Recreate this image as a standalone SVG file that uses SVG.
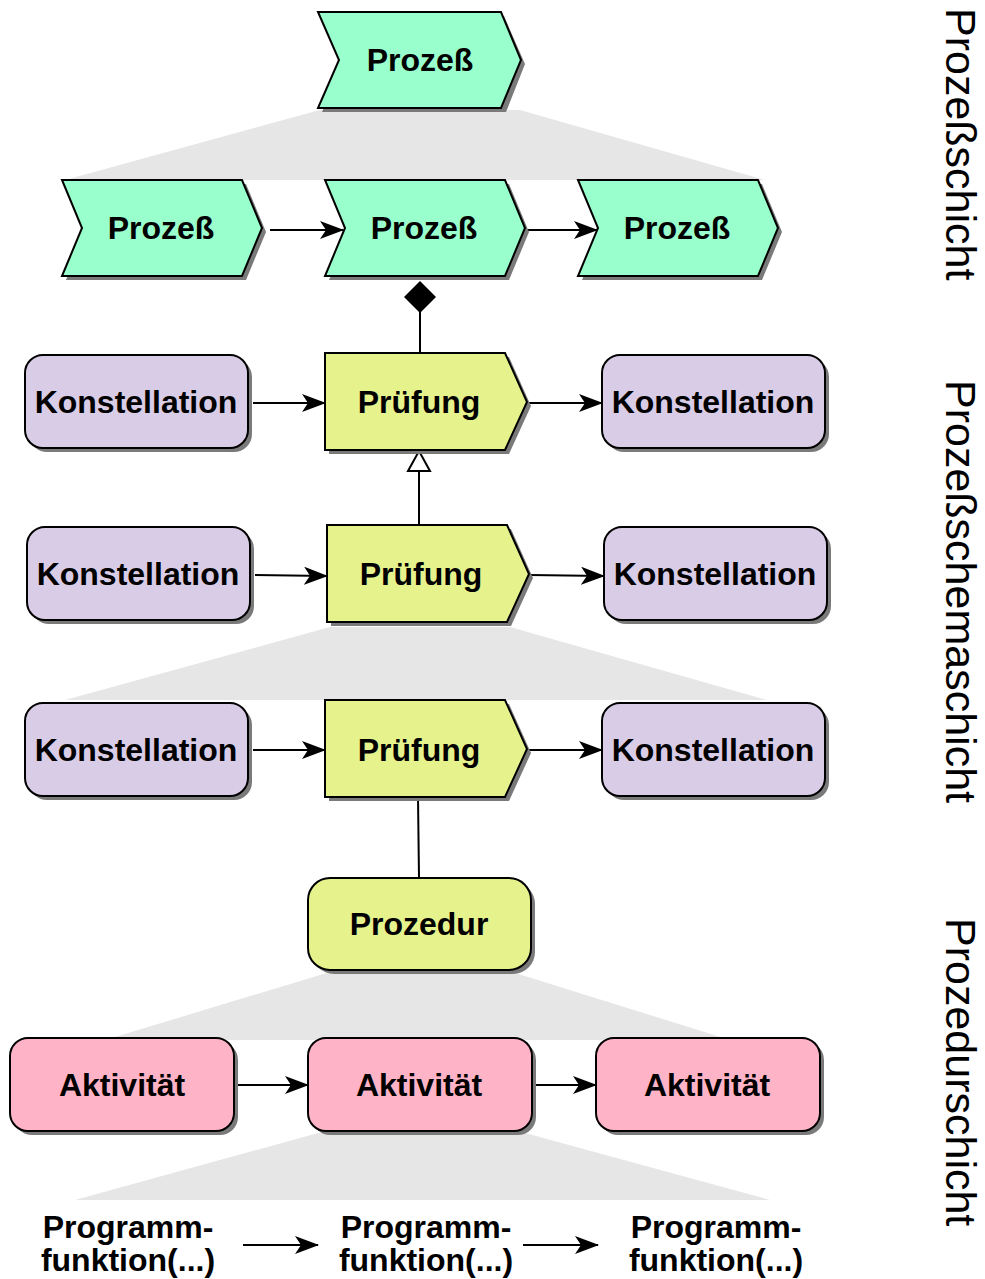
<svg xmlns="http://www.w3.org/2000/svg" width="985" height="1279" viewBox="0 0 985 1279">
<style>
  .sh { fill: #7a7a7a; stroke: none; }
  .green { fill: #99ffcc; stroke: #000; stroke-width: 2; stroke-linejoin: miter; }
  .yellow { fill: #e6f28c; stroke: #000; stroke-width: 2; }
  .purple { fill: #d9cce6; stroke: #000; stroke-width: 2; }
  .pink { fill: #ffb3c6; stroke: #000; stroke-width: 2; }
  .lbl { font-family: "Liberation Sans", Arial, sans-serif; font-weight: bold; font-size: 32px; fill: #000; text-anchor: middle; }
  .layer { font-family: "Liberation Sans", Arial, sans-serif; font-size: 43px; fill: #000; }
  .trap { fill: #e6e6e6; stroke: none; }
  .conn { stroke: #000; stroke-width: 2; fill: none; }
</style>
<defs>
  <marker id="arr" markerWidth="24" markerHeight="18" refX="23" refY="9" orient="auto" markerUnits="userSpaceOnUse">
    <path d="M0,0 L24,9 L0,18 L6,9 Z" fill="#000"/>
  </marker>
</defs>

<g id="hierarchy-bands">
  <polygon class="trap" points="320,110 520,110 765,180 65,180"/>
  <polygon class="trap" points="330,627 510,627 767,700 65,700"/>
  <polygon class="trap" points="330,972 512,972 730,1040 105,1040"/>
  <polygon class="trap" points="318,1133 525,1133 770,1200 75,1200"/>
</g>

<g id="connectors">
  <line class="conn" x1="270" y1="230" x2="343" y2="230" marker-end="url(#arr)"/>
  <line class="conn" x1="527" y1="230" x2="597" y2="230" marker-end="url(#arr)"/>
  <line class="conn" x1="420" y1="312" x2="420" y2="353"/>
  <polygon points="420,281 436,297 420,313 404,297" fill="#000"/>
  <line class="conn" x1="253" y1="403" x2="325" y2="403" marker-end="url(#arr)"/>
  <line class="conn" x1="528" y1="403" x2="602" y2="403" marker-end="url(#arr)"/>
  <line class="conn" x1="419" y1="525" x2="419" y2="471"/>
  <polygon points="419,451 430,471 408,471" fill="#fff" stroke="#000" stroke-width="2"/>
  <line class="conn" x1="255" y1="575" x2="327" y2="576" marker-end="url(#arr)"/>
  <line class="conn" x1="530" y1="575" x2="604" y2="576" marker-end="url(#arr)"/>
  <line class="conn" x1="253" y1="750" x2="325" y2="750" marker-end="url(#arr)"/>
  <line class="conn" x1="528" y1="750" x2="602" y2="750" marker-end="url(#arr)"/>
  <line class="conn" x1="418" y1="797" x2="419" y2="878"/>
  <line class="conn" x1="236" y1="1085" x2="308" y2="1085" marker-end="url(#arr)"/>
  <line class="conn" x1="528" y1="1085" x2="596" y2="1085" marker-end="url(#arr)"/>
  <line class="conn" x1="243" y1="1245" x2="318" y2="1245" marker-end="url(#arr)"/>
  <line class="conn" x1="523" y1="1245" x2="598" y2="1245" marker-end="url(#arr)"/>
</g>

<g id="prozess-top">
  <path class="sh" d="M322,16 L504,16 L525,64 L506,112 L322,112 L343,64 Z"/>
  <path class="green" d="M318,12 L501,12 L521,60 L501,108 L318,108 L339,60 Z"/>
  <text class="lbl" x="420" y="71">Prozeß</text>
</g>

<g id="prozess-1">
  <path class="sh" d="M66,184 L246,184 L266,232 L246,280 L66,280 L86,232 Z"/>
  <path class="green" d="M62,180 L242,180 L262,228 L242,276 L62,276 L82,228 Z"/>
  <text class="lbl" x="161" y="239">Prozeß</text>
</g>
<g id="prozess-2">
  <path class="sh" d="M329,184 L509,184 L529,232 L509,280 L329,280 L349,232 Z"/>
  <path class="green" d="M325,180 L505,180 L525,228 L505,276 L325,276 L345,228 Z"/>
  <text class="lbl" x="424" y="239">Prozeß</text>
</g>
<g id="prozess-3">
  <path class="sh" d="M582,184 L762,184 L782,232 L762,280 L582,280 L602,232 Z"/>
  <path class="green" d="M578,180 L758,180 L778,228 L758,276 L578,276 L598,228 Z"/>
  <text class="lbl" x="677" y="239">Prozeß</text>
</g>

<g id="konst-1l">
  <rect class="sh" x="29" y="359" width="223" height="93" rx="18"/>
  <rect class="purple" x="25" y="355" width="223" height="93" rx="18"/>
  <text class="lbl" x="136" y="413">Konstellation</text>
</g>
<g id="pruefung-1">
  <path class="sh" d="M329,357 L509,357 L531,406 L509,454 L329,454 Z"/>
  <path class="yellow" d="M325,353 L505,353 L527,402 L505,450 L325,450 Z"/>
  <text class="lbl" x="419" y="413">Prüfung</text>
</g>
<g id="konst-1r">
  <rect class="sh" x="606" y="359" width="223" height="93" rx="18"/>
  <rect class="purple" x="602" y="355" width="223" height="93" rx="18"/>
  <text class="lbl" x="713" y="413">Konstellation</text>
</g>

<g id="konst-2l">
  <rect class="sh" x="31" y="531" width="223" height="93" rx="18"/>
  <rect class="purple" x="27" y="527" width="223" height="93" rx="18"/>
  <text class="lbl" x="138" y="585">Konstellation</text>
</g>
<g id="pruefung-2">
  <path class="sh" d="M331,529 L511,529 L533,578 L511,626 L331,626 Z"/>
  <path class="yellow" d="M327,525 L507,525 L529,574 L507,622 L327,622 Z"/>
  <text class="lbl" x="421" y="585">Prüfung</text>
</g>
<g id="konst-2r">
  <rect class="sh" x="608" y="531" width="223" height="93" rx="18"/>
  <rect class="purple" x="604" y="527" width="223" height="93" rx="18"/>
  <text class="lbl" x="715" y="585">Konstellation</text>
</g>

<g id="konst-3l">
  <rect class="sh" x="29" y="707" width="223" height="93" rx="18"/>
  <rect class="purple" x="25" y="703" width="223" height="93" rx="18"/>
  <text class="lbl" x="136" y="761">Konstellation</text>
</g>
<g id="pruefung-3">
  <path class="sh" d="M329,704 L509,704 L531,753 L509,801 L329,801 Z"/>
  <path class="yellow" d="M325,700 L505,700 L527,749 L505,797 L325,797 Z"/>
  <text class="lbl" x="419" y="761">Prüfung</text>
</g>
<g id="konst-3r">
  <rect class="sh" x="606" y="707" width="223" height="93" rx="18"/>
  <rect class="purple" x="602" y="703" width="223" height="93" rx="18"/>
  <text class="lbl" x="713" y="761">Konstellation</text>
</g>

<g id="prozedur">
  <rect class="sh" x="312" y="882" width="223" height="92" rx="22"/>
  <rect class="yellow" x="308" y="878" width="223" height="92" rx="22"/>
  <text class="lbl" x="419" y="935">Prozedur</text>
</g>

<g id="aktivitaet-1">
  <rect class="sh" x="14" y="1042" width="224" height="93" rx="18"/>
  <rect class="pink" x="10" y="1038" width="224" height="93" rx="18"/>
  <text class="lbl" x="122" y="1096">Aktivität</text>
</g>
<g id="aktivitaet-2">
  <rect class="sh" x="312" y="1042" width="224" height="93" rx="18"/>
  <rect class="pink" x="308" y="1038" width="224" height="93" rx="18"/>
  <text class="lbl" x="419" y="1096">Aktivität</text>
</g>
<g id="aktivitaet-3">
  <rect class="sh" x="600" y="1042" width="224" height="93" rx="18"/>
  <rect class="pink" x="596" y="1038" width="224" height="93" rx="18"/>
  <text class="lbl" x="707" y="1096">Aktivität</text>
</g>

<g id="programmfunktion-1">
  <text class="lbl" x="128" y="1238">Programm-</text>
  <text class="lbl" x="128" y="1271">funktion(...)</text>
</g>
<g id="programmfunktion-2">
  <text class="lbl" x="426" y="1238">Programm-</text>
  <text class="lbl" x="426" y="1271">funktion(...)</text>
</g>
<g id="programmfunktion-3">
  <text class="lbl" x="716" y="1238">Programm-</text>
  <text class="lbl" x="716" y="1271">funktion(...)</text>
</g>

<g id="layer-labels">
  <text class="layer" transform="translate(946,8) rotate(90)">Prozeßschicht</text>
  <text class="layer" transform="translate(946,380) rotate(90)">Prozeßschemaschicht</text>
  <text class="layer" transform="translate(946,918) rotate(90)">Prozedurschicht</text>
</g>
</svg>
